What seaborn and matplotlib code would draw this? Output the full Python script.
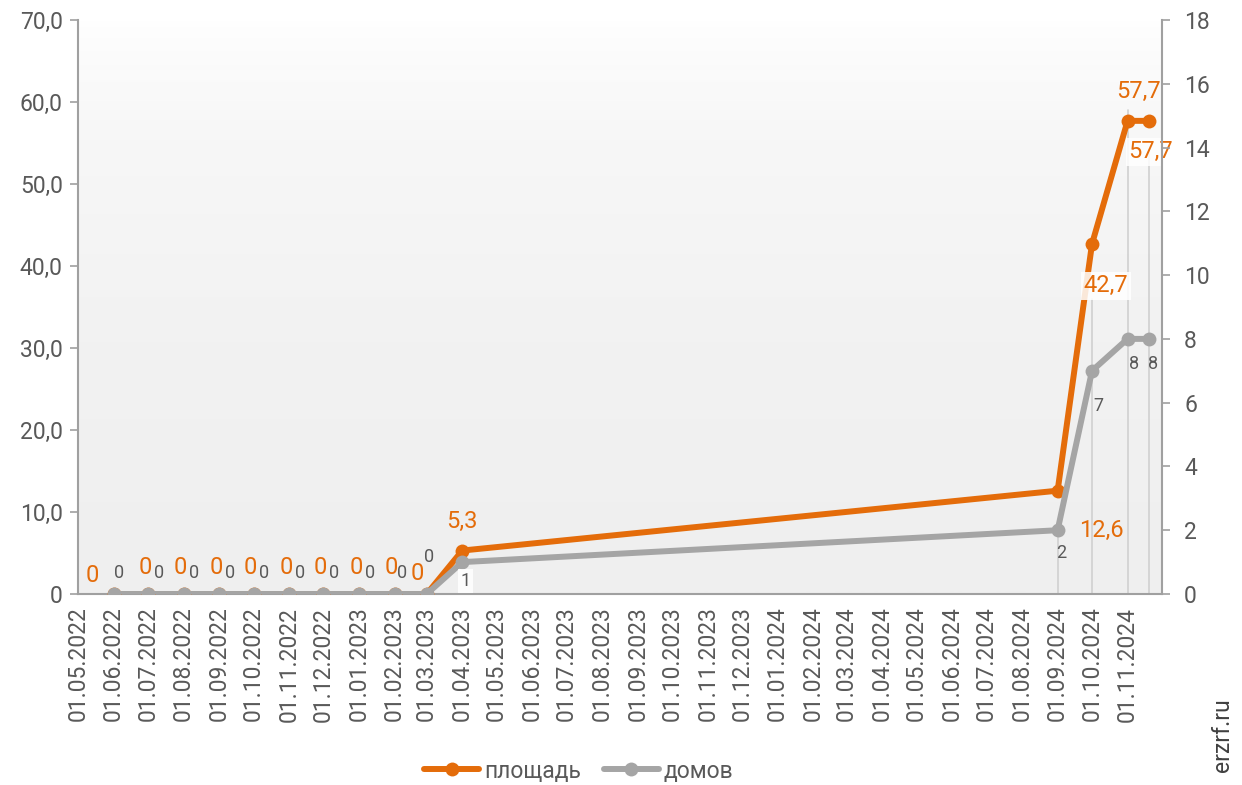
import numpy as np
import pandas as pd
import matplotlib
matplotlib.use('Agg')
import matplotlib.pyplot as plt
import matplotlib.dates as mdates
from matplotlib.colors import LinearSegmentedColormap
import seaborn as sns

# data
dates = ['2022-06-01', '2022-07-01', '2022-08-01', '2022-09-01', '2022-10-01',
         '2022-11-01', '2022-12-01', '2023-01-01', '2023-02-01', '2023-03-01',
         '2023-04-01', '2024-09-01', '2024-10-01', '2024-11-01', '2024-11-20']
area = [0, 0, 0, 0, 0, 0, 0, 0, 0, 0, 5.3, 12.6, 42.7, 57.7, 57.7]
homes = [0, 0, 0, 0, 0, 0, 0, 0, 0, 0, 1, 2, 7, 8, 8]
area_labels = ['0', '0', '0', '0', '0', '0', '0', '0', '0', '0', '5,3', '12,6', '42,7', '57,7', '57,7']
homes_labels = ['0', '0', '0', '0', '0', '0', '0', '0', '0', '0', '1', '2', '7', '8', '8']
tick_dates = pd.date_range('2022-05-01', '2024-11-01', freq='MS')

# label offsets in pixels (dx, dy down)
area_off = [(-21, -19)] + [(-3, -26)] * 8 + [(-9, -21), (0, -29), (44, 40), (14, 42), (11, -29), (1, 31)]
homes_off = [(6, -21)] + [(11, -21)] * 7 + [(7, -21), (2, -37), (3, 19), (4, 23), (6, 35), (6, 25), (4, 25)]

df = pd.DataFrame({'date': pd.to_datetime(dates), 'area': area, 'homes': homes})

ORANGE = '#E46C0A'
GRAY = '#A5A5A5'
TXT = '#595959'
AXC = '#A0A0A0'

sns.set_style('white')
plt.rcParams['font.family'] = ['Roboto', 'DejaVu Sans']

fig = plt.figure(figsize=(12.42, 7.85), dpi=100)
ax = fig.add_axes([78 / 1242, 1 - 594 / 785, (1162 - 78) / 1242, (594 - 20) / 785])
ax2 = ax.twinx()

# gradient background of the plot area
cmap = LinearSegmentedColormap.from_list('bg', ['#ffffff', '#f7f7f7', '#f2f2f2', '#efefef'])
grad = np.linspace(0, 1, 256).reshape(-1, 1) ** 0.7
ax.imshow(grad, cmap=cmap, extent=[0, 1, 0, 1], transform=ax.transAxes,
          aspect='auto', zorder=0, vmin=0, vmax=1)

sns.lineplot(data=df, x='date', y='area', ax=ax, color=ORANGE, linewidth=4.3,
             marker='o', markersize=10, markeredgewidth=0, label='площадь',
             legend=False, zorder=3)
sns.lineplot(data=df, x='date', y='homes', ax=ax2, color=GRAY, linewidth=4.3,
             marker='o', markersize=10, markeredgewidth=0, label='домов',
             legend=False, zorder=3)

x0 = pd.Timestamp('2022-05-01')
x1 = pd.Timestamp('2024-12-01')
ax.set_xlim(x0, x1)
ax.set_ylim(0, 70)
ax2.set_ylim(0, 18)

# faint leader lines at the last points
for d, top in zip(dates[-4:], [2 * 70 / 18, 36, 59, 54]):
    ax.plot([pd.Timestamp(d)] * 2, [0, top], color='#d0d0d0', lw=1.2, zorder=1)

# data labels
for d, v, t, (dx, dy) in zip(df['date'], area, area_labels, area_off):
    boxed = t == '42,7' or (t == '57,7' and dy > 0)
    bbox = dict(boxstyle='square,pad=0.1', fc='white', ec='none', alpha=0.85) if boxed else None
    ax.annotate(t, (d, v), xytext=(dx, -dy), textcoords='offset pixels',
                ha='center', va='center', color=ORANGE, fontsize=17, zorder=6, bbox=bbox)
for d, v, t, (dx, dy) in zip(df['date'], homes, homes_labels, homes_off):
    bbox = dict(boxstyle='square,pad=0.15', fc='white', ec='none', alpha=0.85) if t == '1' else None
    ax2.annotate(t, (d, v), xytext=(dx, -dy), textcoords='offset pixels',
                 ha='center', va='center', color=TXT, fontsize=13, zorder=6, bbox=bbox)

# axes styling
ax.set_xticks(tick_dates)
ax.xaxis.set_major_formatter(mdates.DateFormatter('%d.%m.%Y'))
ax.set_yticks(np.arange(0, 71, 10))
ax.yaxis.set_major_formatter(plt.FuncFormatter(lambda v, p: '0' if v == 0 else f'{v:.1f}'.replace('.', ',')))
ax2.set_yticks(np.arange(0, 19, 2))
ax.set_xlabel('')
ax.set_ylabel('')
ax2.set_ylabel('')

for a in (ax, ax2):
    for s in a.spines.values():
        s.set_visible(False)
ax.spines['left'].set_visible(True)
ax.spines['bottom'].set_visible(True)
ax2.spines['right'].set_visible(True)
for s in (ax.spines['left'], ax.spines['bottom'], ax2.spines['right']):
    s.set_color(AXC)
    s.set_linewidth(1.5)

ax.tick_params(axis='x', rotation=90, labelsize=16.5, colors=AXC, labelcolor=TXT,
               length=6, width=1.2, direction='out', pad=3)
ax.tick_params(axis='y', labelsize=16.5, colors=AXC, labelcolor=TXT,
               length=6, width=1.2, direction='out', pad=5)
ax2.tick_params(axis='y', labelsize=16.5, colors=AXC, labelcolor=TXT,
                length=6, width=1.2, direction='out', pad=10)
ax.grid(False)
ax2.grid(False)

h1, l1 = ax.get_legend_handles_labels()
h2, l2 = ax2.get_legend_handles_labels()
fig.legend(h1 + h2, l1 + l2, loc='center', bbox_to_anchor=(0.466, 1 - 771 / 785),
           ncol=2, frameon=False, fontsize=16.5, labelcolor=TXT, handlelength=2.4,
           handletextpad=0.2, columnspacing=1.0)

fig.text(1222 / 1242, 1 - 735 / 785, 'erzrf.ru', rotation=90, ha='center',
         va='center', fontsize=16.5, color='#404040')

fig.savefig('out.png', dpi=100)
